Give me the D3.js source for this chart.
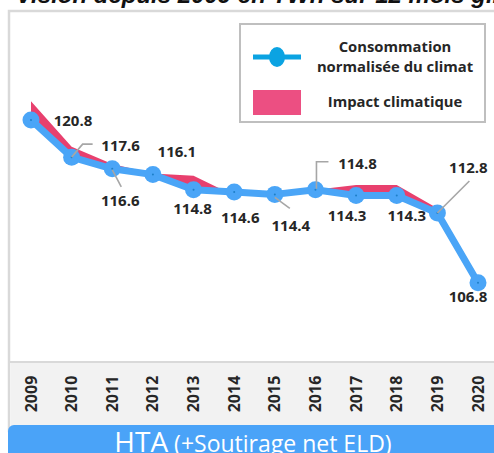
<!DOCTYPE html>
<html>
<head>
<meta charset="utf-8">
<script src="https://cdn.jsdelivr.net/npm/d3@7/dist/d3.min.js"></script>
<style>
	html, body { margin: 0; padding: 0; background: #fff; overflow: hidden; }
	svg { display: block; }
	.lbl { font-family: "Open Sans", sans-serif; font-weight: bold; fill: #262626; }
</style>
</head>
<body>
<div id="chart"></div>
<script>
// data
var years = ["2009", "2010", "2011", "2012", "2013", "2014", "2015", "2016", "2017", "2018", "2019", "2020"];
var normalised = [120.8, 117.6, 116.6, 116.1, 114.8, 114.6, 114.4, 114.8, 114.3, 114.3, 112.8, 106.8];
var actual = [122.4, 118.5, 117.0, 116.2, 116.0, 114.3, 114.4, 114.8, 115.2, 115.2, 113.2, 106.8];
var legendNames = ["Consommation", "normalisée du climat", "Impact climatique"];
var titleText = "Vision depuis 2009 en TWh sur 12 mois glissants";
var bannerMain = "HTA";
var bannerSub = " (+Soutirage net ELD)";

// where each value label sits relative to its point (layout only)
var labelOffsets = [[42, 1], [49, -12], [8, 32], [24, -23], [-1, 19], [6, 25], [16, 31], [42, -26], [-9, 20], [10, 20], [31, -46], [-10, 14]];
// leader lines, relative to the point
var leaders = {
	1: [[0, 0], [11, -13], [21, -13]],
	2: [[0, 1], [9, 18]],
	6: [[0, 3], [15, 14]],
	7: [[1, -1], [1, -28], [13, -28]],
	10: [[0, 0], [32, -32]]
};

var W = 494, H = 453;
var svg = d3.select("#chart").append("svg")
	.attr("width", W)
	.attr("height", H);

var x = d3.scalePoint().domain(years).range([31, 478]);
var y = d3.scaleLinear().domain([100, 125]).range([362, 71]);

// title, mostly cut off at the top
svg.append("text")
	.attr("x", 16)
	.attr("y", 3)
	.attr("font-family", "Liberation Sans, Arial, sans-serif")
	.attr("font-weight", "bold")
	.attr("font-style", "italic")
	.attr("font-size", 24)
	.attr("fill", "#111")
	.text(titleText);

// frame
svg.append("rect")
	.attr("x", 9).attr("y", 11)
	.attr("width", 520).attr("height", 420)
	.attr("fill", "#fff")
	.attr("stroke", "#d9d9d9")
	.attr("stroke-width", 2.5);

// axis band
svg.append("rect")
	.attr("x", 10.5).attr("y", 362)
	.attr("width", 520).attr("height", 64)
	.attr("fill", "#f2f2f2");
svg.append("line")
	.attr("x1", 10).attr("x2", 494)
	.attr("y1", 362).attr("y2", 362)
	.attr("stroke", "#d9d9d9")
	.attr("stroke-width", 2);

// x axis labels
var xAxis = d3.axisBottom(x).tickSize(0).tickPadding(0);
var gx = svg.append("g")
	.attr("transform", "translate(0,362)")
	.call(xAxis);
gx.select(".domain").remove();
gx.selectAll("text")
	.attr("class", "lbl")
	.attr("font-size", 16)
	.attr("transform", "translate(5,31) rotate(-90)")
	.attr("text-anchor", "middle")
	.attr("dy", 0)
	.attr("y", 0)
	.attr("x", -1);

// climate impact area between the two series
var rows = years.map(function(d, i) { return {year: d, norm: normalised[i], act: actual[i]}; });
var area = d3.area()
	.x(function(d) { return x(d.year); })
	.y0(function(d) { return y(d.norm); })
	.y1(function(d) { return y(d.act); });
svg.append("path")
	.datum(rows)
	.attr("d", area)
	.attr("fill", "#e8406e");

// normalised line
var line = d3.line()
	.x(function(d) { return x(d.year); })
	.y(function(d) { return y(d.norm); });
svg.append("path")
	.datum(rows)
	.attr("d", line)
	.attr("fill", "none")
	.attr("stroke", "#4aa5f7")
	.attr("stroke-width", 7)
	.attr("stroke-linejoin", "round");

svg.selectAll("circle.pt")
	.data(rows)
	.enter().append("circle")
	.attr("class", "pt")
	.attr("cx", function(d) { return x(d.year); })
	.attr("cy", function(d) { return y(d.norm); })
	.attr("r", 8.5)
	.attr("fill", "#4aa5f7");
svg.selectAll("circle.dot")
	.data(rows)
	.enter().append("circle")
	.attr("class", "dot")
	.attr("cx", function(d) { return x(d.year); })
	.attr("cy", function(d) { return y(d.norm); })
	.attr("r", 1)
	.attr("fill", "#1e7fc8");

// leader lines
Object.keys(leaders).forEach(function(k) {
	var i = +k;
	var px = x(years[i]), py = y(normalised[i]);
	svg.append("polyline")
		.attr("points", leaders[k].map(function(p) { return (px + p[0]) + "," + (py + p[1]); }).join(" "))
		.attr("fill", "none")
		.attr("stroke", "#a6a6a6")
		.attr("stroke-width", 1.6);
});

// value labels
svg.selectAll("text.val")
	.data(rows)
	.enter().append("text")
	.attr("class", "lbl val")
	.attr("font-size", 15)
	.attr("text-anchor", "middle")
	.attr("x", function(d, i) { return x(d.year) + labelOffsets[i][0]; })
	.attr("y", function(d, i) { return y(d.norm) + labelOffsets[i][1] + 5.5; })
	.text(function(d) { return d.norm.toFixed(1); });

// legend
var lg = svg.append("g");
lg.append("rect")
	.attr("x", 240).attr("y", 24)
	.attr("width", 245).attr("height", 98)
	.attr("fill", "#fff")
	.attr("stroke", "#bfbfbf")
	.attr("stroke-width", 2);
lg.append("line")
	.attr("x1", 253).attr("x2", 301)
	.attr("y1", 57).attr("y2", 57)
	.attr("stroke", "#0ba3e2")
	.attr("stroke-width", 5);
lg.append("ellipse")
	.attr("cx", 277).attr("cy", 57)
	.attr("rx", 8).attr("ry", 10)
	.attr("fill", "#0ba3e2");
lg.append("rect")
	.attr("x", 253).attr("y", 90)
	.attr("width", 48).attr("height", 25)
	.attr("fill", "#ec4f82");
lg.selectAll("text")
	.data(legendNames)
	.enter().append("text")
	.attr("class", "lbl")
	.attr("font-size", 14.8)
	.attr("fill", "#111")
	.attr("text-anchor", "middle")
	.attr("x", 395)
	.attr("y", function(d, i) { return [52, 72, 107][i]; })
	.text(function(d) { return d; });

// blue banner at the bottom
svg.append("rect")
	.attr("x", 8).attr("y", 425)
	.attr("width", 520).attr("height", 50)
	.attr("rx", 6)
	.attr("fill", "#4aa3f8");
var bt = svg.append("text")
	.attr("x", 253)
	.attr("y", 452)
	.attr("text-anchor", "middle")
	.attr("font-family", "Open Sans, sans-serif")
	.attr("fill", "#fff");
bt.append("tspan").attr("font-size", 28).text(bannerMain);
bt.append("tspan").attr("font-size", 23).text(bannerSub);
</script>
</body>
</html>
